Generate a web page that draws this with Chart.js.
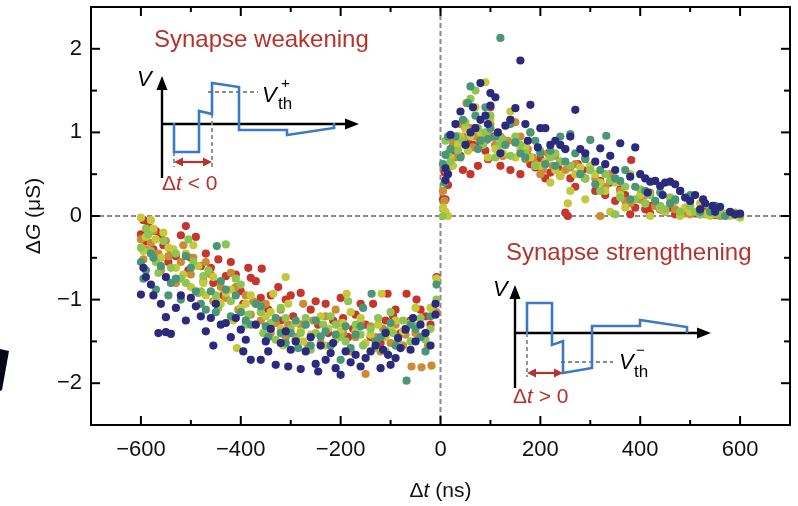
<!DOCTYPE html>
<html><head><meta charset="utf-8">
<script src="https://cdn.jsdelivr.net/npm/chart.js@4/dist/chart.umd.min.js"></script>
<style>html,body{margin:0;padding:0;background:#fff}canvas{display:block}</style>
</head><body>
<canvas id="c" width="798" height="506"></canvas>
<script>
// ---- data (Δt in ns, ΔG in µS) ----
const xTicks = [-600, -400, -200, 0, 200, 400, 600];
const yTicks = [-2, -1, 0, 1, 2];
const xMinor = [-500, -300, -100, 100, 300, 500];
const yMinor = [-1.5, -0.5, 0.5, 1.5];

const navyPts = [[-600,-0.94],[-590,-0.73],[-580,-0.82],[-560,-1.05],[-550,-0.73],[-550,-1.21],[-550,-1.39],[-540,-1.41],[-520,-0.95],[-510,-1.25],[-500,-0.98],[-490,-1.08],[-470,-1.38],[-460,-1.22],[-450,-1.05],[-440,-1.30],[-420,-1.45],[-410,-1.22],[-400,-1.36],[-390,-1.48],[-380,-1.72],[-370,-1.30],[-360,-1.72],[-350,-1.50],[-340,-1.35],[-330,-1.78],[-310,-1.38],[-300,-1.60],[-290,-1.50],[-280,-1.83],[-270,-1.62],[-250,-1.77],[-240,-1.55],[-230,-1.72],[-220,-1.64],[-210,-1.82],[-200,-1.90],[-190,-1.62],[-170,-1.66],[-160,-1.80],[-150,-1.70],[-130,-1.55],[-120,-1.82],[-110,-1.40],[-100,-1.78],[-90,-1.70],[-80,-1.58],[-70,-1.36],[-60,-1.60],[-50,-1.50],[-40,-1.30],[-20,-1.55],[-10,-1.05],[-10,-1.18],
 [-595,-0.62],[-575,-0.95],[-565,-1.40],[-530,-1.10],[-480,-1.20],[-455,-1.55],[-430,-1.28],[-395,-1.62],[-345,-1.62],[-320,-1.52],[-305,-1.80],[-260,-1.45],[-245,-1.86],[-215,-1.52],[-180,-1.75],[-140,-1.62],[-115,-1.60],[-105,-1.66],[-85,-1.46],[-55,-1.22],[-30,-1.40],
 [10,0.57],[10,0.43],[20,0.97],[40,1.25],[50,0.85],[60,1.0],[70,1.05],[80,1.59],[80,1.15],[100,1.47],[110,1.42],[100,1.32],[95,1.1],[120,0.75],[130,1.08],[150,1.29],[160,1.86],[170,1.1],[180,1.33],[200,1.05],[210,1.05],[220,0.85],[230,0.9],[260,0.95],[250,0.8],[270,1.27],[280,0.8],[320,0.81],[310,0.65],[330,0.62],[350,0.55],[360,0.87],[380,0.47],[390,0.82],[410,0.45],[420,0.41],[430,0.42],[440,0.36],[450,0.4],[460,0.41],[470,0.38],[480,0.3],[500,0.18],[510,0.25],[526,0.2],[530,0.15],[545,0.12],[560,0.11],[580,0.05],[600,0.03],
 [15,0.5],[30,1.1],[65,1.3],[90,1.2],[115,1.0],[140,1.15],[175,0.9],[195,0.82],[240,0.85],[290,0.75],[340,0.72],[400,0.5],[415,0.28],[445,0.25],[490,0.22],[520,0.08],[550,0.05],[590,0.02]];

const tealPts = [[-600,-0.55],[-590,-0.65],[-580,-0.45],[-570,-0.88],[-560,-0.60],[-545,-0.95],[-530,-0.75],[-520,-1.0],[-500,-0.62],[-490,-0.90],[-470,-1.12],[-460,-0.90],[-448,-0.36],[-440,-0.78],[-430,-0.88],[-420,-1.20],[-400,-1.15],[-380,-1.30],[-370,-1.05],[-360,-1.08],[-345,-1.45],[-330,-1.22],[-310,-1.52],[-300,-1.40],[-285,-1.58],[-270,-1.30],[-250,-1.25],[-240,-1.44],[-220,-1.55],[-200,-1.72],[-190,-1.32],[-170,-1.42],[-155,-1.10],[-138,-0.93],[-130,-1.50],[-110,-1.38],[-90,-1.55],[-68,-1.97],[-60,-1.30],[-40,-1.45],[-20,-1.20],[-8,-0.82],
 [-595,-0.75],[-575,-0.50],[-540,-0.80],[-510,-0.48],[-480,-1.05],[-450,-1.15],[-410,-0.95],[-390,-1.25],[-350,-1.32],[-320,-1.40],[-290,-1.25],[-260,-1.55],[-230,-1.38],[-210,-1.42],[-180,-1.58],[-160,-1.32],[-120,-1.45],[-100,-1.28],[-50,-1.35],[-30,-1.62],
 [5,0.62],[10,0.73],[20,0.8],[30,0.95],[45,1.15],[60,1.55],[70,1.2],[80,0.9],[90,1.3],[100,1.05],[110,0.95],[120,2.13],[130,0.85],[140,1.1],[150,0.88],[170,0.7],[190,0.9],[200,0.75],[210,0.62],[230,0.6],[240,0.95],[260,0.98],[270,0.75],[290,0.68],[300,0.91],[320,0.55],[332,0.96],[350,0.45],[370,0.55],[390,0.35],[410,0.3],[440,0.28],[460,0.15],[480,0.3],[500,0.25],[520,0.05],[550,0.12],[570,0.0],[590,0.02],
 [8,0.4],[15,0.95],[40,0.7],[55,1.35],[75,0.8],[95,0.92],[160,0.75],[180,1.0],[220,0.78],[250,0.65],[280,0.5],[310,0.38],[360,0.42],[380,0.2],[430,0.18],[470,0.2],[540,0.05],[600,0.02]];

const lgreenPts = [[-600,-0.38],[-590,-0.15],[-580,-0.42],[-570,-0.55],[-555,-0.30],[-540,-0.62],[-520,-0.75],[-505,-0.28],[-495,-0.55],[-480,-0.90],[-465,-0.65],[-450,-0.95],[-430,-0.34],[-420,-1.02],[-400,-0.82],[-385,-1.18],[-370,-1.05],[-355,-1.40],[-340,-1.28],[-320,-1.10],[-300,-1.35],[-290,-1.48],[-270,-1.22],[-250,-1.40],[-235,-1.30],[-220,-1.20],[-200,-1.45],[-185,-1.02],[-170,-1.30],[-155,-1.55],[-140,-1.35],[-125,-1.22],[-110,-1.62],[-95,-1.40],[-75,-1.25],[-60,-1.50],[-40,-1.22],[-20,-1.35],[-8,-1.0],
 [-585,-0.22],[-565,-0.68],[-530,-0.45],[-510,-0.80],[-475,-0.72],[-445,-1.10],[-410,-0.75],[-390,-1.30],[-360,-1.15],[-330,-1.48],[-310,-1.22],[-280,-1.40],[-260,-1.60],[-210,-1.30],[-190,-1.50],[-160,-1.42],[-130,-1.58],[-100,-1.15],[-85,-1.50],[-50,-1.32],[-30,-1.48],
 [5,0.0],[10,0.9],[20,0.65],[35,0.78],[50,1.12],[60,1.4],[75,1.05],[85,0.85],[100,1.2],[110,0.7],[125,0.92],[140,0.72],[160,0.85],[180,1.0],[200,0.78],[220,0.7],[240,0.65],[260,0.6],[280,0.5],[300,0.55],[320,0.3],[340,0.42],[350,0.02],[370,0.35],[400,0.32],[420,0.25],[440,0.12],[460,0.22],[480,0.05],[500,0.12],[520,0.02],[540,0.08],[560,0.03],[580,0.02],[600,0.01],
 [15,0.75],[30,0.95],[45,0.9],[70,1.5],[90,1.0],[120,0.85],[150,0.95],[170,0.75],[190,0.6],[230,0.75],[250,0.8],[290,0.45],[330,0.5],[360,0.22],[390,0.2],[410,0.15],[450,0.08],[470,0.18],[510,0.05],[550,0.02],[590,0.04]];

const yellowPts = [[-600,-0.02],[-590,-0.25],[-580,-0.05],[-570,-0.28],[-560,-0.50],[-545,-0.38],[-530,-0.62],[-510,-0.45],[-500,-0.85],[-485,-0.60],[-470,-0.95],[-455,-0.73],[-440,-1.05],[-420,-0.88],[-408,-1.58],[-400,-1.10],[-380,-0.95],[-350,-1.20],[-335,-0.93],[-320,-1.35],[-310,-0.73],[-305,-1.05],[-290,-1.28],[-275,-1.50],[-260,-1.42],[-240,-1.20],[-225,-1.35],[-210,-1.48],[-195,-1.28],[-188,-0.93],[-180,-1.15],[-170,-1.38],[-150,-1.52],[-125,-1.30],[-118,-0.93],[-110,-1.45],[-90,-1.25],[-75,-1.38],[-50,-1.10],[-30,-1.40],[-8,-0.75],
 [-595,-0.42],[-575,-0.15],[-555,-0.20],[-535,-0.40],[-515,-0.70],[-495,-0.35],[-475,-0.80],[-450,-1.00],[-430,-0.92],[-415,-1.25],[-390,-1.05],[-370,-1.30],[-340,-1.15],[-315,-1.55],[-280,-1.38],[-250,-1.25],[-230,-1.55],[-200,-1.38],[-160,-1.22],[-140,-1.42],[-100,-1.35],[-60,-1.28],[-20,-1.10],
 [5,0.1],[15,0.0],[25,0.6],[40,0.95],[55,0.78],[70,1.3],[90,1.6],[100,1.15],[110,0.8],[125,0.75],[140,1.25],[150,0.7],[170,0.82],[190,0.6],[210,0.65],[220,0.4],[240,0.48],[255,0.15],[270,0.5],[290,0.2],[300,0.6],[320,0.4],[340,0.05],[360,0.25],[380,0.5],[400,0.25],[420,0.0],[440,0.1],[460,0.22],[480,0.0],[500,0.05],[520,0.15],[540,0.0],[560,0.05],[580,0.0],[600,-0.02],
 [10,0.05],[20,0.7],[35,0.85],[50,1.05],[60,0.95],[80,1.0],[95,0.7],[120,0.9],[160,0.8],[180,0.7],[200,0.6],[230,0.55],[260,0.3],[280,0.58],[310,0.5],[330,0.3],[350,0.4],[370,0.1],[410,0.15],[450,0.05],[490,0.1],[530,0.03],[570,0.02],[590,0.03]];

const orangePts = [[-600,-0.28],[-590,-0.40],[-575,-0.18],[-560,-0.65],[-545,-0.48],[-530,-0.80],[-515,-0.35],[-500,-0.70],[-485,-0.92],[-470,-0.55],[-455,-1.02],[-440,-0.85],[-420,-0.68],[-405,-1.12],[-390,-0.95],[-375,-1.02],[-360,-1.25],[-340,-1.40],[-320,-1.12],[-305,-1.30],[-290,-1.45],[-275,-1.05],[-255,-1.25],[-240,-1.52],[-225,-1.35],[-210,-1.12],[-195,-1.40],[-180,-1.62],[-160,-1.28],[-150,-1.89],[-130,-1.45],[-115,-1.35],[-100,-1.52],[-70,-1.42],[-58,-1.80],[-38,-1.81],[-18,-1.79],[-25,-1.55],[-8,-1.15],
 [-595,-0.52],[-580,-0.32],[-565,-0.45],[-550,-0.30],[-520,-0.55],[-495,-0.50],[-475,-0.78],[-460,-0.70],[-430,-0.98],[-410,-0.85],[-380,-1.18],[-350,-1.05],[-330,-1.28],[-310,-1.45],[-280,-1.30],[-265,-1.55],[-230,-1.20],[-200,-1.28],[-170,-1.45],[-140,-1.32],[-120,-1.62],[-90,-1.30],[-75,-1.55],[-50,-1.40],
 [5,0.3],[8,0.18],[20,0.93],[30,0.7],[40,1.1],[52,1.35],[65,0.82],[80,0.95],[95,1.0],[110,0.85],[125,0.72],[140,1.15],[150,1.12],[160,0.95],[175,0.8],[190,0.62],[205,0.55],[215,0.75],[230,0.72],[250,0.55],[270,0.62],[290,0.7],[310,0.45],[320,0.0],[340,0.5],[360,0.3],[380,0.15],[400,0.2],[420,0.28],[440,0.08],[460,0.15],[480,0.05],[500,0.02],[520,0.08],[540,0.03],[560,0.0],[580,0.02],[600,0.0],
 [12,0.55],[25,0.85],[45,0.95],[60,1.05],[70,0.95],[90,0.9],[100,1.1],[120,0.95],[135,0.9],[170,0.68],[185,0.7],[200,0.5],[225,0.6],[240,0.65],[260,0.58],[280,0.5],[300,0.6],[330,0.35],[370,0.18],[410,0.25],[430,0.12],[470,0.08],[490,0.03],[530,0.02],[570,0.03],[590,0.01]];

const redPts = [[-600,-0.22],[-595,-0.05],[-585,-0.12],[-570,-0.18],[-555,-0.35],[-540,-0.40],[-520,-0.23],[-510,-0.12],[-500,-0.50],[-490,-0.25],[-470,-0.45],[-460,-0.62],[-445,-0.52],[-430,-0.72],[-420,-0.55],[-400,-0.90],[-385,-0.62],[-380,-0.74],[-370,-0.78],[-358,-0.63],[-340,-0.95],[-325,-0.85],[-310,-1.00],[-295,-1.20],[-280,-0.92],[-260,-1.12],[-245,-1.30],[-230,-1.05],[-215,-1.25],[-200,-0.98],[-185,-1.45],[-170,-1.18],[-150,-1.30],[-135,-1.05],[-120,-1.52],[-106,-0.93],[-95,-1.20],[-80,-1.40],[-68,-0.93],[-48,-1.0],[-60,-1.25],[-40,-1.12],[-20,-1.30],[-8,-0.73],
 [-590,-0.30],[-575,-0.40],[-560,-0.25],[-545,-0.55],[-530,-0.48],[-505,-0.65],[-480,-0.60],[-455,-0.80],[-435,-0.95],[-410,-0.70],[-395,-1.05],[-360,-0.98],[-345,-1.12],[-320,-1.25],[-300,-0.95],[-275,-1.30],[-250,-1.02],[-225,-1.40],[-195,-1.22],[-175,-1.35],[-160,-1.05],[-140,-1.45],[-110,-1.25],[-90,-1.12],[-70,-1.35],[-30,-1.20],
 [5,0.2],[10,0.2],[15,0.37],[25,0.75],[35,0.95],[45,0.55],[55,0.92],[60,0.5],[70,1.05],[80,0.88],[90,0.78],[100,1.3],[110,0.85],[125,0.72],[140,0.55],[150,0.88],[165,0.82],[180,0.62],[200,0.68],[220,0.52],[235,0.58],[250,0.04],[255,0.0],[260,0.45],[275,0.62],[290,0.45],[300,0.55],[320,0.42],[340,0.4],[360,0.32],[382,0.67],[400,0.2],[420,0.12],[440,0.08],[460,0.1],[480,0.05],[500,0.04],[520,0.02],[540,0.03],[560,0.02],[580,0.03],[600,0.0],[420,0.03],[380,0.02],
 [8,0.52],[20,0.6],[30,0.8],[40,0.72],[50,1.05],[65,0.85],[75,0.6],[95,0.68],[105,0.95],[120,0.6],[130,0.88],[160,0.5],[175,0.72],[190,0.58],[210,0.45],[240,0.48],[270,0.35],[285,0.55],[310,0.3],[330,0.25],[350,0.18],[370,0.25],[390,0.1],[410,0.08],[450,0.05],[470,0.02],[490,0.06],[510,0.03],[530,0.05],[550,0.01],[570,0.02],[590,0.03]];

const seriesNames = ['navy', 'teal', 'lightgreen', 'yellow', 'orange', 'red'];
const seriesPts = [navyPts, tealPts, lgreenPts, yellowPts, orangePts, redPts];
const seriesColors = ['#2c2a7c', '#4b9676', '#8dc553', '#c4c93b', '#cc8c36', '#c5362c'];

const FONT = '"Liberation Sans", Arial, Helvetica, sans-serif';
const RED = '#b5332d';
const BLUE = '#3d78c2';
const GREY = '#8a8a8a';

function fmt(v){ return v < 0 ? '\u2212' + Math.abs(v) : String(v); }

function rich(ctx, parts, x, y, align){
  let w = 0;
  parts.forEach(p => { ctx.font = (p[1] ? 'italic ' : '') + p[2] + 'px ' + FONT; w += ctx.measureText(p[0]).width; });
  let cx = align === 'center' ? x - w/2 : x;
  parts.forEach(p => { ctx.font = (p[1] ? 'italic ' : '') + p[2] + 'px ' + FONT; ctx.textAlign = 'left'; ctx.fillText(p[0], cx, y); cx += ctx.measureText(p[0]).width; });
}

function arrowHead(ctx, x, y, dir){
  ctx.beginPath();
  if (dir === 'up'){ ctx.moveTo(x, y); ctx.lineTo(x-5.5, y+14); ctx.lineTo(x+5.5, y+14); }
  else { ctx.moveTo(x, y); ctx.lineTo(x-14, y-5.5); ctx.lineTo(x-14, y+5.5); }
  ctx.closePath(); ctx.fill();
}
function dblArrow(ctx, x1, x2, y){
  ctx.strokeStyle = RED; ctx.fillStyle = RED; ctx.lineWidth = 2.2;
  ctx.beginPath(); ctx.moveTo(x1+6, y); ctx.lineTo(x2-6, y); ctx.stroke();
  ctx.beginPath(); ctx.moveTo(x1, y); ctx.lineTo(x1+9, y-4.5); ctx.lineTo(x1+9, y+4.5); ctx.closePath(); ctx.fill();
  ctx.beginPath(); ctx.moveTo(x2, y); ctx.lineTo(x2-9, y-4.5); ctx.lineTo(x2-9, y+4.5); ctx.closePath(); ctx.fill();
}
function dashLine(ctx, pts){
  ctx.save(); ctx.strokeStyle = GREY; ctx.lineWidth = 1.8; ctx.setLineDash([4,3]);
  ctx.beginPath(); ctx.moveTo(pts[0][0], pts[0][1]); for (let i=1;i<pts.length;i++) ctx.lineTo(pts[i][0], pts[i][1]); ctx.stroke(); ctx.restore();
}
function poly(ctx, pts, color, w){
  ctx.strokeStyle = color; ctx.lineWidth = w; ctx.lineJoin = 'miter';
  ctx.beginPath(); ctx.moveTo(pts[0][0], pts[0][1]); for (let i=1;i<pts.length;i++) ctx.lineTo(pts[i][0], pts[i][1]); ctx.stroke();
}

const framePlugin = {
  id: 'frame',
  beforeDatasetsDraw(chart){
    const ctx = chart.ctx, a = chart.chartArea, xs = chart.scales.x, ys = chart.scales.y;
    ctx.save();
    ctx.strokeStyle = GREY; ctx.lineWidth = 2; ctx.setLineDash([5,3]);
    const x0 = xs.getPixelForValue(0), y0 = ys.getPixelForValue(0);
    ctx.beginPath(); ctx.moveTo(a.left, y0); ctx.lineTo(a.right, y0); ctx.stroke();
    ctx.beginPath(); ctx.moveTo(x0, a.top); ctx.lineTo(x0, a.bottom); ctx.stroke();
    ctx.restore();
  },
  afterDraw(chart){
    const ctx = chart.ctx, a = chart.chartArea, xs = chart.scales.x, ys = chart.scales.y;
    ctx.save();
    ctx.strokeStyle = '#000'; ctx.lineWidth = 2;
    ctx.strokeRect(a.left, a.top, a.right - a.left, a.bottom - a.top);
    const tick = (x1,y1,x2,y2) => { ctx.beginPath(); ctx.moveTo(x1,y1); ctx.lineTo(x2,y2); ctx.stroke(); };
    xTicks.forEach(v => { const p = xs.getPixelForValue(v); tick(p, a.bottom, p, a.bottom-9); tick(p, a.top, p, a.top+9); });
    xMinor.forEach(v => { const p = xs.getPixelForValue(v); tick(p, a.bottom, p, a.bottom-5); tick(p, a.top, p, a.top+5); });
    yTicks.forEach(v => { const p = ys.getPixelForValue(v); tick(a.left, p, a.left+9, p); tick(a.right, p, a.right-9, p); });
    yMinor.forEach(v => { const p = ys.getPixelForValue(v); tick(a.left, p, a.left+6, p); tick(a.right, p, a.right-6, p); });

    ctx.fillStyle = '#111'; ctx.textBaseline = 'middle';
    rich(ctx, [['\u0394', false, 21], ['t', true, 21], [' (ns)', false, 21]], xs.getPixelForValue(0), 491, 'center');
    ctx.save(); ctx.translate(34, ys.getPixelForValue(0)); ctx.rotate(-Math.PI/2);
    rich(ctx, [['\u0394', false, 21], ['G', true, 21], [' (\u03bcS)', false, 21]], 0, 0, 'center');
    ctx.restore();

    // ---- inset: synapse weakening ----
    ctx.fillStyle = RED; ctx.textBaseline = 'middle';
    ctx.font = '24px ' + FONT; ctx.textAlign = 'left';
    ctx.fillText('Synapse weakening', 154, 40);
    ctx.strokeStyle = '#000'; ctx.fillStyle = '#000'; ctx.lineWidth = 2.4;
    tick(162, 178, 162, 84); arrowHead(ctx, 162, 76, 'up');
    tick(162, 124, 348, 124); arrowHead(ctx, 359, 124, 'right');
    dashLine(ctx, [[208,92],[258,92]]);
    dashLine(ctx, [[212,114],[212,167]]);
    dashLine(ctx, [[174,152],[174,167]]);
    poly(ctx, [[174,123],[174,152],[199,152],[199,111],[212,114],[212,83],[239,87],[239,130],[287,130],[287,135],[334,128],[334,123]], BLUE, 2.6);
    dblArrow(ctx, 174, 212, 162);
    ctx.fillStyle = '#000';
    rich(ctx, [['V', true, 22]], 137, 80, 'left');
    rich(ctx, [['V', true, 22]], 262, 96, 'left');
    rich(ctx, [['+', false, 15]], 281, 84, 'left');
    rich(ctx, [['th', false, 17]], 278, 104, 'left');
    ctx.fillStyle = RED;
    rich(ctx, [['\u0394', false, 21], ['t', true, 21], [' < 0', false, 21]], 162, 184, 'left');

    // ---- inset: synapse strengthening ----
    ctx.font = '24px ' + FONT; ctx.textAlign = 'left'; ctx.fillStyle = RED;
    ctx.fillText('Synapse strengthening', 506, 253);
    ctx.strokeStyle = '#000'; ctx.fillStyle = '#000'; ctx.lineWidth = 2.4;
    tick(515, 388, 515, 293); arrowHead(ctx, 515, 285, 'up');
    tick(515, 333, 700, 333); arrowHead(ctx, 711, 333, 'right');
    dashLine(ctx, [[561,362],[613,362]]);
    dashLine(ctx, [[527,333],[527,377]]);
    poly(ctx, [[527,333],[527,303],[552,303],[552,345],[563,341],[563,373],[592,368],[592,326],[640,326],[640,320],[687,327],[687,333]], BLUE, 2.6);
    dblArrow(ctx, 527, 563, 373);
    ctx.fillStyle = '#000';
    rich(ctx, [['V', true, 22]], 493, 290, 'left');
    rich(ctx, [['V', true, 22]], 619, 363, 'left');
    rich(ctx, [['\u2212', false, 15]], 636, 351, 'left');
    rich(ctx, [['th', false, 17]], 634, 372, 'left');
    ctx.fillStyle = RED;
    rich(ctx, [['\u0394', false, 21], ['t', true, 21], [' > 0', false, 21]], 513, 397, 'left');

    ctx.fillStyle = '#06081a';
    ctx.beginPath(); ctx.moveTo(0,349); ctx.lineTo(9,351); ctx.lineTo(2,390); ctx.lineTo(0,391); ctx.closePath(); ctx.fill();
    ctx.restore();
  }
};

const datasets = seriesPts.map((pts, i) => ({
  label: seriesNames[i],
  data: pts.map(p => ({x: p[0], y: p[1]})),
  backgroundColor: seriesColors[i],
  borderWidth: 0,
  pointRadius: 4.1,
  pointHoverRadius: 4.1
}));

new Chart(document.getElementById('c'), {
  type: 'scatter',
  data: { datasets },
  options: {
    responsive: false, animation: false, devicePixelRatio: 1,
    events: [],
    layout: { padding: { top: 7, right: 8, left: 0, bottom: 0 } },
    plugins: { legend: { display: false }, tooltip: { enabled: false } },
    scales: {
      x: {
        type: 'linear', min: -700, max: 700,
        grid: { display: false, drawTicks: false }, border: { display: false },
        afterBuildTicks: s => { s.ticks = xTicks.map(v => ({value: v})); },
        afterFit: s => { s.height = 81; s.paddingLeft = 0; s.paddingRight = 0; },
        ticks: { color: '#111', font: { family: FONT, size: 22 }, padding: 12, maxRotation: 0, autoSkip: false, callback: v => fmt(v) }
      },
      y: {
        type: 'linear', min: -2.5, max: 2.5,
        grid: { display: false, drawTicks: false }, border: { display: false },
        afterBuildTicks: s => { s.ticks = yTicks.map(v => ({value: v})); },
        afterFit: s => { s.width = 91; s.paddingTop = 0; s.paddingBottom = 0; },
        ticks: { color: '#111', font: { family: FONT, size: 22 }, padding: 9, autoSkip: false, callback: v => fmt(v) }
      }
    }
  },
  plugins: [framePlugin]
});
</script>
</body></html>
